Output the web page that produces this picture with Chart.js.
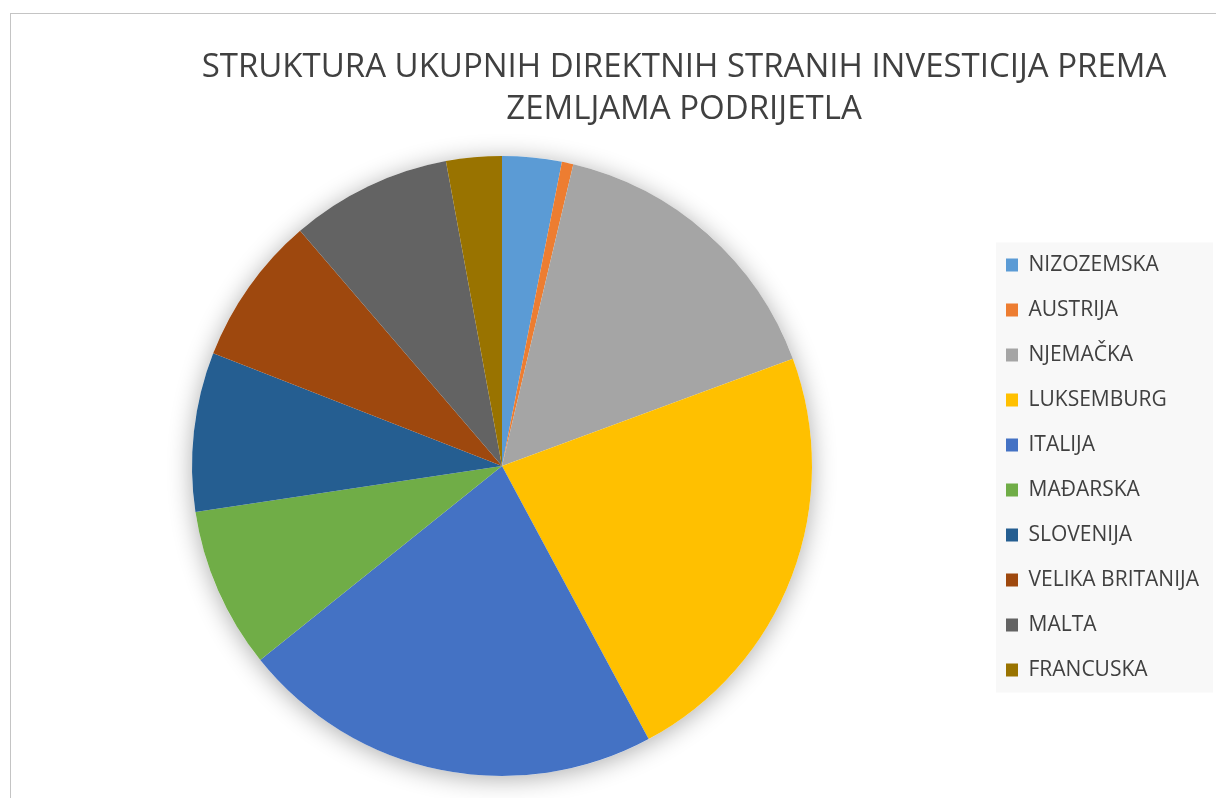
<!DOCTYPE html>
<html>
<head>
<meta charset="utf-8">
<script src="https://cdn.jsdelivr.net/npm/chart.js@4.4.1/dist/chart.umd.min.js"></script>
<style>
  html, body { margin: 0; padding: 0; background: #fff; }
  body { width: 1216px; height: 798px; position: relative; overflow: hidden; }
  .frame { position: absolute; left: 10px; top: 13px; right: -5px; bottom: -5px;
           border-left: 1px solid #c4c4c4; border-top: 1px solid #c4c4c4; }
  canvas { position: absolute; left: 0; top: 0; }
</style>
</head>
<body>
<div class="frame"></div>
<canvas id="chart" width="1216" height="798"></canvas>
<script>
const titleLines = ['STRUKTURA UKUPNIH DIREKTNIH STRANIH INVESTICIJA PREMA', 'ZEMLJAMA PODRIJETLA'];
const countries = ['NIZOZEMSKA', 'AUSTRIJA', 'NJEMAČKA', 'LUKSEMBURG', 'ITALIJA',
                   'MAĐARSKA', 'SLOVENIJA', 'VELIKA BRITANIJA', 'MALTA', 'FRANCUSKA'];
// share of total FDI, %
const shares = [3.1, 0.6, 15.7, 22.8, 22.1, 8.4, 8.3, 7.8, 8.4, 2.9];
const colors = ['#5B9BD5', '#ED7D31', '#A5A5A5', '#FFC000', '#4472C4',
                '#70AD47', '#255E91', '#9E480E', '#636363', '#997300'];

const FONT = "'Open Sans', sans-serif";

// legend box takes a wider slot so the title centre and pie centre land where excel put them
const legendSlot = {
  id: 'legendSlot',
  beforeInit(chart) {
    const fit = chart.legend.fit;
    chart.legend.fit = function () {
      fit.call(this);
      this.width = 364;
    };
  },
  afterLayout(chart) {
    const lg = chart.legend;
    lg.left = lg.right - 234;
    lg.top += 1.5;
    lg.bottom += 1.5;
  },
  beforeDraw(chart) {
    const lg = chart.legend;
    if (!lg || !lg.columnSizes) return;
    const pad = lg.options.labels.padding;
    const colH = lg.columnSizes[0].height;
    const y0 = (lg.top + pad + lg.bottom - colH) / 2 - pad / 2;
    const ctx = chart.ctx;
    ctx.save();
    ctx.fillStyle = '#f8f8f8';
    ctx.fillRect(lg.left + 14, y0, 217, colH);
    ctx.restore();
  }
};

// soft drop shadow under the whole pie
const pieShadow = {
  id: 'pieShadow',
  beforeDatasetsDraw(chart) {
    const arc = chart.getDatasetMeta(0).data[0];
    if (!arc) return;
    const ctx = chart.ctx;
    ctx.save();
    ctx.beginPath();
    ctx.arc(arc.x, arc.y, arc.outerRadius, 0, Math.PI * 2);
    ctx.fillStyle = '#ffffff';
    ctx.shadowColor = 'rgba(0, 0, 0, 0.32)';
    ctx.shadowBlur = 24;
    ctx.shadowOffsetY = 3;
    ctx.fill();
    ctx.restore();
  }
};

new Chart(document.getElementById('chart'), {
  type: 'pie',
  data: {
    labels: countries,
    datasets: [{
      data: shares,
      backgroundColor: colors,
      borderWidth: 0
    }]
  },
  options: {
    responsive: false,
    devicePixelRatio: 1,
    animation: false,
    layout: { padding: { left: 152, right: 0, top: 0, bottom: 22 } },
    plugins: {
      title: {
        display: true,
        text: titleLines,
        color: '#404040',
        font: { family: FONT, size: 33, weight: 'normal', lineHeight: 42 / 33 },
        padding: { top: 47, bottom: 25 }
      },
      legend: {
        position: 'right',
        fullSize: false,
        align: 'center',
        labels: {
          color: '#404040',
          font: { family: FONT, size: 21 },
          boxWidth: 12,
          boxHeight: 13,
          padding: 24
        }
      },
      tooltip: { enabled: false }
    }
  },
  plugins: [legendSlot, pieShadow]
});
</script>
</body>
</html>
